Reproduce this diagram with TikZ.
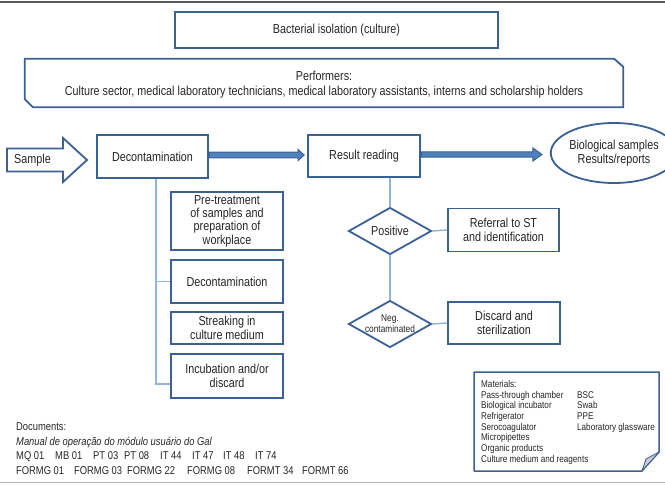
\documentclass[tikz,border=0pt]{standalone}
\usepackage{fontspec}
\setmainfont{Liberation Sans}[FakeStretch=0.83]
\usetikzlibrary{shapes.geometric,calc}
\definecolor{boxblue}{RGB}{58,96,148}
\definecolor{linkblue}{RGB}{149,179,215}
\definecolor{fatblue}{RGB}{79,129,189}
\definecolor{ink}{RGB}{38,38,38}
\begin{document}
\begin{tikzpicture}[x=1pt,y=-1pt,
  every node/.style={text=ink, font=\fontsize{13}{13.3}\selectfont},
  stepbox/.style={draw=boxblue, line width=1.8pt, fill=white, align=center, inner sep=0pt},
  link/.style={draw=linkblue, line width=1.4pt},
  fat/.style={draw=boxblue, line width=1pt, fill=fatblue, line join=miter},
  dia/.style={diamond, draw=boxblue, line width=1.8pt, fill=white, inner sep=0pt,
    minimum width=83pt, minimum height=47pt},
]
\useasboundingbox (0,0) rectangle (665,487);

% page rules
\draw[gray!70!black, line width=1.5pt] (0,2) -- (665,2);
\draw[gray!55, line width=1.2pt] (0,482.5) -- (665,482.5);

% header boxes
\node[stepbox, minimum width=323pt, minimum height=36pt] (title) at (336.5,30)
  {Bacterial isolation (culture)};
\node[inner sep=0pt, minimum width=598pt, minimum height=48pt] (perf) at (324,83) {};
\draw[boxblue, line width=1.8pt, fill=white, line join=miter]
  (perf.north west) -- ($(perf.north east)+(-9,0)$) -- ($(perf.north east)+(0,8)$)
  -- (perf.south east) -- ($(perf.south west)+(8,0)$) -- ($(perf.south west)+(0,-8)$) -- cycle;
\node[align=center, inner sep=0pt, font=\fontsize{13}{15.5}\selectfont] (perftxt) at (perf) [yshift=-1.5pt]
  {Performers:\\Culture sector, medical laboratory technicians, medical laboratory assistants, interns and scholarship holders};

% main row
\draw[boxblue, line width=1.8pt, fill=white, line join=miter]
  (7,148.5) -- (63,148.5) -- (63,138) -- (87,160) -- (63,182) -- (63,171.5) -- (7,171.5) -- cycle;
\node[anchor=west, inner sep=0pt] (sampletxt) at (14,160) {Sample};
\node[stepbox, minimum width=111pt, minimum height=43pt] (decon) at (152.5,156.5) {Decontamination};
\node[stepbox, minimum width=112pt, minimum height=42pt] (result) at (364,156) {Result reading};
\node[ellipse, draw=boxblue, line width=1.8pt, fill=white, minimum width=98pt,
  minimum height=60pt, inner sep=0pt, align=center] (bio) at (614,153)
  {Biological samples\\Results/reports};

% fat arrows
\draw[fat] let \p1=($(decon.east)+(0.5,-1.5)$), \p2=($(result.west)+(-3,0)$) in
  (\x1,\y1+2.8pt) -- (\x2-6pt,\y1+2.8pt) -- (\x2-6pt,\y1+5.5pt) -- (\x2,\y1)
  -- (\x2-6pt,\y1-5.5pt) -- (\x2-6pt,\y1-2.8pt) -- (\x1,\y1-2.8pt) -- cycle;
\draw[fat] let \p1=($(result.east)+(0.5,-1.5)$), \p2=($(bio.west)+(-8,0)$) in
  (\x1,\y1+2.7pt) -- (\x2-9pt,\y1+2.7pt) -- (\x2-9pt,\y1+6.5pt) -- (\x2,\y1)
  -- (\x2-9pt,\y1-6.5pt) -- (\x2-9pt,\y1-2.7pt) -- (\x1,\y1-2.7pt) -- cycle;

% decontamination steps
\node[stepbox, minimum width=112pt, minimum height=58pt] (b1) at (227,221)
  {Pre-treatment\\of samples and\\preparation of\\workplace};
\node[stepbox, minimum width=112pt, minimum height=43pt] (b2) at (227,281.5) {Decontamination};
\node[stepbox, minimum width=112pt, minimum height=32pt] (b3) at (227,328)
  {Streaking in\\culture medium};
\node[stepbox, minimum width=112pt, minimum height=44pt] (b4) at (227,376)
  {Incubation and/or\\discard};
\coordinate (trunk) at ($(decon.south)+(3.5,0)$);
\draw[link] (trunk) |- ($(b4.west)+(0,8)$);
\draw[link] ($(b1.west)+(0,-3)$) -- ($(b1.west)+(0,-3)$ -| trunk);
\draw[link] (b2.west) -- (b2.west -| trunk);
\draw[link] ($(b3.west)+(0,1)$) -- ($(b3.west)+(0,1)$ -| trunk);

% result branches
\node[dia, label={center:Positive}] (pos) at (390,231) {};
\node[dia, label={[font=\fontsize{10}{11}\selectfont, align=center]center:Neg.\\contaminated}] (neg) at (390,324) {};
\node[stepbox, minimum width=111pt, minimum height=43pt] (referral) at (503.5,230)
  {Referral to ST\\and identification};
\node[stepbox, minimum width=112pt, minimum height=42pt] (discard) at (504,323)
  {Discard and\\sterilization};
\draw[link] (pos.north) -- (pos.north |- result.south);
\draw[link] (pos.south) -- (neg.north);
\draw[link] (pos.east) -- (referral.west);
\draw[link] (neg.east) -- (discard.west);

% documents
\node[anchor=north west, align=left, inner sep=0pt, font=\fontsize{11.3}{14.6}\selectfont] (docs) at (16,422.5)
  {Documents:\\
   \textit{Manual de operação do módulo usuário do Gal}\\
   \makebox[39pt][l]{MQ 01}\makebox[38pt][l]{MB 01}\makebox[31pt][l]{PT 03}\makebox[36pt][l]{PT 08}\makebox[32pt][l]{IT 44}\makebox[31pt][l]{IT 47}\makebox[32pt][l]{IT 48}IT 74\\
   \makebox[58pt][l]{FORMG 01}\makebox[53pt][l]{FORMG 03}\makebox[60pt][l]{FORMG 22}\makebox[60pt][l]{FORMG 08}\makebox[55pt][l]{FORMT 34}FORMT 66};

% materials note with folded corner
\draw[boxblue, line width=1.5pt, fill=white, line join=round]
  (474,372) -- (659,372) -- (659,452) .. controls (653,459) and (648,464) .. (642,471)
  -- (474,471) -- cycle;
\draw[boxblue, line width=0.8pt, fill=gray!40, line join=round]
  (642,471) .. controls (648,464) and (653,459) .. (659,452) -- (646,459) -- cycle;
\node[anchor=north west, align=left, inner sep=0pt, font=\fontsize{9.8}{10.7}\selectfont] (materials) at (481,380)
  {Materials:\\
   \makebox[96pt][l]{Pass-through chamber}BSC\\
   \makebox[96pt][l]{Biological incubator}Swab\\
   \makebox[96pt][l]{Refrigerator}PPE\\
   \makebox[96pt][l]{Serocoagulator}Laboratory glassware\\
   Micropipettes\\
   Organic products\\
   Culture medium and reagents};
\end{tikzpicture}
\end{document}
